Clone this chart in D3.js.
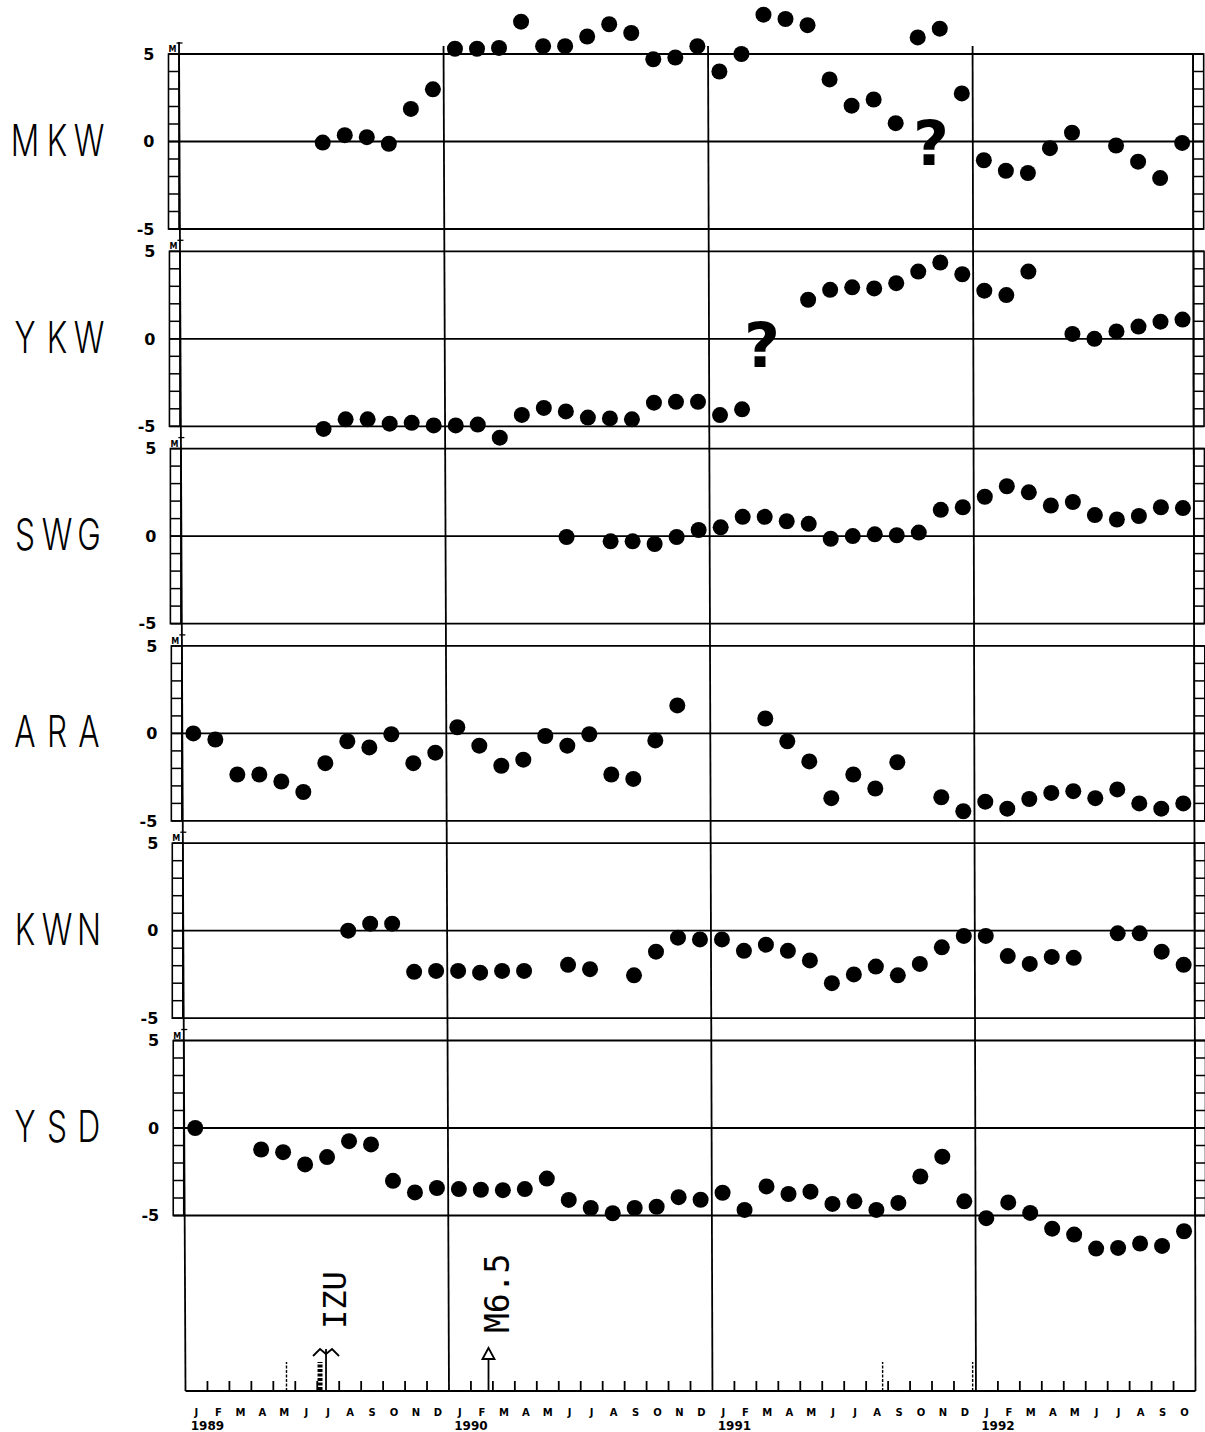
<!DOCTYPE html>
<meta charset="utf-8">

<!-- Load d3.js -->
<script src="https://d3js.org/d3.v7.min.js"></script>

<style>
  body { margin: 0; background: #fff; }
</style>

<!-- Create a div where the graph will take place -->
<div id="my_dataviz"></div>

<script>

// months run from Jan 1989 (index 0) to Oct 1992 (index 45)
var nMonths = 46;
var monthLetters = ["J","F","M","A","M","J","J","A","S","O","N","D"];
var years = ["1989", "1990", "1991", "1992"];

var stations = ["MKW", "YKW", "SWG", "ARA", "KWN", "YSD"];
var yTicks = [5, 0, -5];

// monthly values, one array per station (null = no data)
var _ = null;
var mkw = [_, _, _, _, _, _, -0.06, 0.36, 0.25, -0.13, 1.86, 2.98,
           5.3, 5.3, 5.35, 6.85, 5.45, 5.45, 6.0, 6.7, 6.2, 4.7, 4.8, 5.45,
           4.0, 5.0, 7.25, 7.0, 6.65, 3.55, 2.05, 2.4, 1.05, 5.95, 6.45, 2.75,
           -1.07, -1.67, -1.8, -0.38, 0.5, _, -0.23, -1.15, -2.09, -0.08];
var ykw = [_, _, _, _, _, _, -5.15, -4.6, -4.6, -4.85, -4.8, -4.95,
           -4.95, -4.9, -5.65, -4.35, -3.95, -4.15, -4.5, -4.55, -4.6, -3.65, -3.6, -3.6,
           -4.36, -4.03, _, _, 2.23, 2.8, 2.94, 2.88, 3.18, 3.84, 4.36, 3.69,
           2.75, 2.5, 3.84, _, 0.28, 0, 0.42, 0.7, 0.98, 1.1];
var swg = [_, _, _, _, _, _, _, _, _, _, _, _,
           _, _, _, _, _, -0.05, _, -0.3, -0.3, -0.45, -0.05, 0.35,
           0.5, 1.1, 1.1, 0.85, 0.7, -0.15, 0, 0.1, 0.05, 0.2, 1.5, 1.65,
           2.25, 2.85, 2.5, 1.75, 1.95, 1.2, 0.95, 1.15, 1.65, 1.6];
var ara = [0, -0.35, -2.35, -2.35, -2.75, -3.35, -1.7, -0.45, -0.8, -0.05, -1.7, -1.1,
           0.35, -0.7, -1.85, -1.5, -0.15, -0.7, -0.05, -2.35, -2.6, -0.4, 1.6, _,
           _, _, 0.85, -0.45, -1.6, -3.7, -2.35, -3.15, -1.65, _, -3.65, -4.45,
           -3.9, -4.3, -3.75, -3.4, -3.3, -3.7, -3.2, -4.0, -4.3, -4.0];
var kwn = [_, _, _, _, _, _, _, 0, 0.4, 0.4, -2.35, -2.3,
           -2.3, -2.4, -2.3, -2.3, _, -1.95, -2.2, _, -2.55, -1.2, -0.4, -0.5,
           -0.5, -1.15, -0.8, -1.15, -1.7, -3.0, -2.5, -2.05, -2.55, -1.9, -0.95, -0.3,
           -0.3, -1.45, -1.9, -1.5, -1.55, _, -0.15, -0.15, -1.2, -1.95];
var ysd = [0, _, _, -1.23, -1.38, -2.08, -1.66, -0.75, -0.94, -3.02, -3.68, -3.43,
           -3.49, -3.53, -3.55, -3.49, -2.89, -4.11, -4.57, -4.87, -4.57, -4.5, -3.95, -4.1,
           -3.7, -4.68, -3.34, -3.77, -3.64, -4.34, -4.19, -4.68, -4.28, -2.77, -1.64, -4.19,
           -5.15, -4.25, -4.85, -5.75, -6.09, -6.89, -6.85, -6.6, -6.74, -5.9];
var series = [mkw, ykw, swg, ara, kwn, ysd];

// "?" notes (panel, month, value)
var qPanels = [0, 1];
var qMonths = [34.1, 26.4];
var qValues = [-1.35, -1.6];

// events along the time axis
var eventLabels = ["IZU", "M6.5"];
var eventMonths = [6.4, 13.8];
// faint dotted marks on the time axis
var markMonths = [4.6, 31.75, 35.85];

// set the dimensions of the graph
var width = 1205,
    height = 1432,
    panelTop = 54,
    panelStep = 197.3,
    panelH = 175,
    axisY = 1391;

var svg = d3.select("#my_dataviz")
  .append("svg")
  .attr("width", width)
  .attr("height", height);

// the sheet is a little skewed: the time axis drifts right going down the page
function xScaleAt(yPix) {
  var t = (yPix - 40) / (axisY - 40);
  return d3.scaleLinear()
    .domain([0, nMonths])
    .range([179 + 6.5 * t, 1193 + 2.5 * t]);
}

var lineW = 1.8;

// one panel per station
stations.forEach(function(name, p) {
  var top = panelTop + p * panelStep;
  var y = d3.scaleLinear().domain([-5, 5]).range([top + panelH, top]);
  var x = xScaleAt(top + panelH / 2);
  var x0 = x(0), x1 = x(nMonths);
  var g = svg.append("g");

  // scale strips on both sides, one cell per unit
  [x0 - 11, x1].forEach(function(sx) {
    g.append("rect")
      .attr("x", sx).attr("y", y(5))
      .attr("width", 10.5).attr("height", y(-5) - y(5))
      .attr("fill", "none").attr("stroke", "#000").attr("stroke-width", 1.6);
    g.selectAll(null)
      .data(d3.range(-4, 5))
      .enter()
      .append("line")
      .attr("x1", sx).attr("x2", sx + 10.5)
      .attr("y1", function(d) { return y(d); })
      .attr("y2", function(d) { return y(d); })
      .attr("stroke", "#000").attr("stroke-width", 1.5);
  });

  // +5 / 0 / -5 lines
  g.selectAll(null)
    .data(yTicks)
    .enter()
    .append("line")
    .attr("x1", x0 - 11).attr("x2", x1 + 10.5)
    .attr("y1", function(d) { return y(d); })
    .attr("y2", function(d) { return y(d); })
    .attr("stroke", "#000").attr("stroke-width", lineW);

  g.selectAll(null)
    .data(yTicks)
    .enter()
    .append("text")
    .attr("x", x0 - 25)
    .attr("y", function(d) { return y(d); })
    .attr("dy", "0.36em")
    .attr("text-anchor", "end")
    .style("font", "bold 16px 'DejaVu Sans', sans-serif")
    .text(function(d) { return d; });

  // small marks at the top of the axis
  g.append("line")
    .attr("x1", x0 - 3).attr("x2", x0 + 3)
    .attr("y1", y(5) - 11).attr("y2", y(5) - 11)
    .attr("stroke", "#000").attr("stroke-width", 1.3);
  g.append("text")
    .attr("x", x0 - 11).attr("y", y(5) - 2)
    .style("font", "bold 8px 'DejaVu Sans', sans-serif")
    .text("M");

  // station name, one spaced letter at a time (plotter lettering)
  g.selectAll(null)
    .data(name.split(""))
    .enter()
    .append("text")
    .attr("transform", function(d, k) {
      return "translate(" + (25 + 32 * k) + "," + (y(0) + 14) + ") scale(0.72,1)";
    })
    .attr("text-anchor", "middle")
    .style("font-family", "Inter, 'Open Sans', sans-serif")
    .style("font-weight", 300)
    .style("font-size", "44px")
    .text(function(d) { return d; });

  // dots at month centres
  var vals = series[p];
  var pts = d3.range(nMonths).filter(function(i) { return vals[i] != null; });
  g.selectAll("circle")
    .data(pts)
    .enter()
    .append("circle")
    .attr("cx", function(i) { return x(i + 0.5); })
    .attr("cy", function(i) { return y(vals[i]); })
    .attr("r", 8)
    .attr("fill", "#000");

  // question marks
  qPanels.forEach(function(qp, k) {
    if (qp !== p) return;
    g.append("text")
      .attr("x", x(qMonths[k]))
      .attr("y", y(qValues[k]))
      .attr("text-anchor", "middle")
      .style("font", "bold 62px 'DejaVu Sans', sans-serif")
      .text("?");
  });
});

// vertical lines: left axis, year boundaries, right end
var xTop = xScaleAt(42),
    xb = xScaleAt(axisY);
svg.selectAll(null)
  .data([0, 12, 24, 36, nMonths])
  .enter()
  .append("line")
  .attr("x1", function(d) { return xTop(d); })
  .attr("x2", function(d) { return xb(d); })
  .attr("y1", function(d) { return d === 0 ? 42 : (d === nMonths ? panelTop : 46); })
  .attr("y2", axisY)
  .attr("stroke", "#000").attr("stroke-width", lineW);

// time axis
svg.append("line")
  .attr("x1", xb(0)).attr("x2", xb(nMonths))
  .attr("y1", axisY).attr("y2", axisY)
  .attr("stroke", "#000").attr("stroke-width", 2.2);

svg.selectAll(null)
  .data(d3.range(1, nMonths).filter(function(i) { return i % 12 !== 0; }))
  .enter()
  .append("line")
  .attr("x1", function(d) { return xb(d); })
  .attr("x2", function(d) { return xb(d); })
  .attr("y1", axisY).attr("y2", axisY - 10)
  .attr("stroke", "#000").attr("stroke-width", 1.8);

svg.selectAll(null)
  .data(d3.range(nMonths))
  .enter()
  .append("text")
  .attr("x", function(i) { return xb(i + 0.5); })
  .attr("y", 1416)
  .attr("text-anchor", "middle")
  .style("font", "bold 10px 'DejaVu Sans', sans-serif")
  .text(function(i) { return monthLetters[i % 12]; });

svg.selectAll(null)
  .data(years)
  .enter()
  .append("text")
  .attr("x", function(d, k) { return xb(12 * k + 1); })
  .attr("y", 1430)
  .attr("text-anchor", "middle")
  .style("font", "bold 12px 'DejaVu Sans', sans-serif")
  .text(function(d) { return d; });

// dotted marks on the axis
svg.selectAll(null)
  .data(markMonths)
  .enter()
  .append("line")
  .attr("x1", function(d) { return xb(d); })
  .attr("x2", function(d) { return xb(d); })
  .attr("y1", axisY).attr("y2", axisY - 29)
  .attr("stroke", "#000").attr("stroke-width", 1.4)
  .attr("stroke-dasharray", "3,1.5");

// IZU: brace, line and label
var ex0 = xb(eventMonths[0]);
svg.append("line")
  .attr("x1", ex0).attr("x2", ex0)
  .attr("y1", axisY).attr("y2", 1349)
  .attr("stroke", "#000").attr("stroke-width", 1.8);
svg.append("line")
  .attr("x1", ex0 - 6).attr("x2", ex0 - 6)
  .attr("y1", axisY - 1).attr("y2", 1362)
  .attr("stroke", "#000").attr("stroke-width", 5)
  .attr("stroke-dasharray", "3,1.5");
svg.append("path")
  .attr("d", "M" + (ex0 - 13) + "," + 1356 + " L" + (ex0 - 6) + "," + 1349 +
             " L" + ex0 + "," + 1354 + " L" + (ex0 + 6) + "," + 1349 + " L" + (ex0 + 13) + "," + 1356)
  .attr("fill", "none").attr("stroke", "#000").attr("stroke-width", 1.8);
svg.append("text")
  .attr("transform", "translate(" + (ex0 + 20) + ",1329) rotate(-90)")
  .style("font", "32px 'DejaVu Sans Mono', monospace")
  .text(eventLabels[0]);

// M6.5: open arrow and label
var ex1 = xb(eventMonths[1]);
svg.append("line")
  .attr("x1", ex1).attr("x2", ex1)
  .attr("y1", axisY).attr("y2", 1358)
  .attr("stroke", "#000").attr("stroke-width", 1.8);
svg.append("path")
  .attr("d", "M" + (ex1 - 6) + ",1359 L" + ex1 + ",1348 L" + (ex1 + 6) + ",1359 Z")
  .attr("fill", "none").attr("stroke", "#000").attr("stroke-width", 1.8);
svg.append("text")
  .attr("transform", "translate(" + (ex1 + 20) + ",1333) rotate(-90)")
  .style("font", "33px 'DejaVu Sans Mono', monospace")
  .text(eventLabels[1]);

</script>
